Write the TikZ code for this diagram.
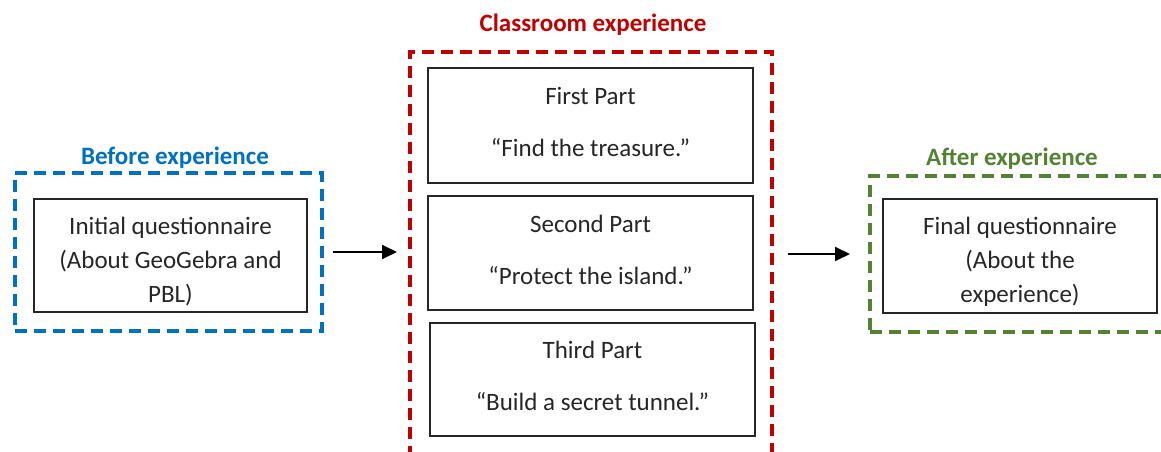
\documentclass[tikz,border=0pt]{standalone}
\usepackage{fontspec}
\setmainfont{Carlito}
\usetikzlibrary{arrows.meta}
\definecolor{beforeblue}{RGB}{0,112,192}
\definecolor{classred}{RGB}{192,0,0}
\definecolor{aftergreen}{RGB}{84,130,53}
\definecolor{inkgray}{RGB}{38,38,38}
\newcommand{\downstrut}{\rule{0pt}{30pt}}% pushes first text line down
\newcommand{\upstrut}{\rule[-7pt]{0pt}{7pt}}% lifts the text block a little

\begin{document}
\begin{tikzpicture}[x=1pt,y=-1pt,
    phase/.style={draw, line width=4.6pt, dash pattern=on 12pt off 7pt,
      inner sep=0pt, outer sep=0pt},
    stepbox/.style={draw=inkgray, line width=1.3pt, fill=white, inner sep=0pt,
      text=inkgray, align=center, font=\fontsize{25}{34}\selectfont},
    title/.style={font=\fontsize{25}{30}\selectfont\bfseries},
    flow/.style={line width=1.8pt, -{Triangle[length=15pt,width=14pt]}}]
  \useasboundingbox (0,0) rectangle (1161,452);
  \clip (0,0) rectangle (1161,452);
  \fill[white] (0,0) rectangle (1161,452);
  % dashed phase frames
  \node[phase, draw=beforeblue, minimum width=307pt, minimum height=158pt]
    (before) at (168.5,252) {};
  \node[phase, draw=classred, minimum width=362pt, minimum height=402pt]
    (classroom) at (591,253) {};
  \node[phase, draw=aftergreen, minimum width=307pt, minimum height=156pt]
    (after) at (1023.5,254) {};
  % frame titles
  \node[title, text=beforeblue] (beforelbl) at (175,158) {Before experience};
  \node[title, text=classred] (classlbl) at (593,25) {Classroom experience};
  \node[title, text=aftergreen] (afterlbl) at (1012,159) {After experience};
  % boxes
  \node[stepbox, minimum width=273pt, minimum height=113pt] (initial) at (170.5,255.5)
    {\downstrut Initial questionnaire\\(About GeoGebra and\\PBL)};
  \node[stepbox, minimum width=325pt, minimum height=115pt] (first) at (590.5,125.5)
    {First Part\\[18pt]“Find the treasure.”\upstrut};
  \node[stepbox, minimum width=325pt, minimum height=114pt] (second) at (590.5,253)
    {Second Part\\[18pt]“Protect the island.”\upstrut};
  \node[stepbox, minimum width=325pt, minimum height=113pt] (third) at (592.5,379.5)
    {Third Part\\[18pt]“Build a secret tunnel.”\upstrut};
  \node[stepbox, minimum width=274pt, minimum height=114pt] (final) at (1020,256)
    {\downstrut Final questionnaire\\(About the\\experience)};
  % arrows
  \draw[flow, shorten <=11pt, shorten >=13pt] (before.east) -- (before.east -| classroom.west);
  \draw[flow, shorten <=16pt, shorten >=20pt] (classroom.east |- after.west) -- (after.west);
\end{tikzpicture}
\end{document}
